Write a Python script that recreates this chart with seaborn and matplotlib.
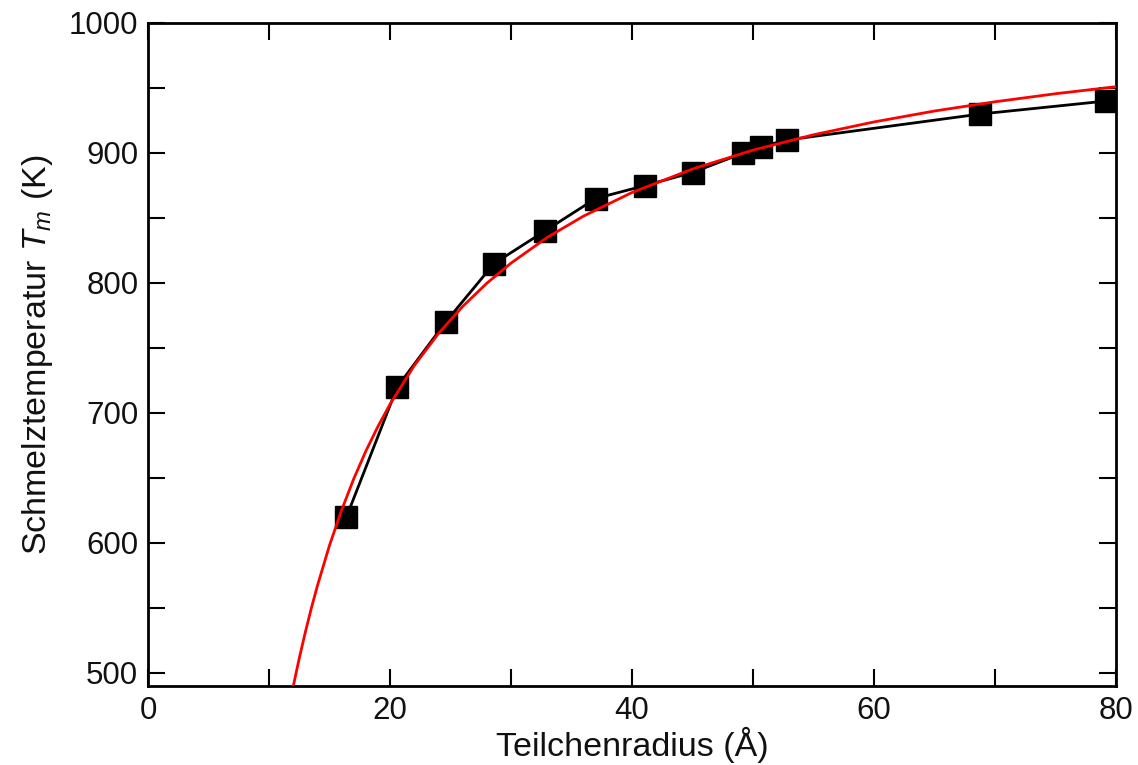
import matplotlib
matplotlib.use("Agg")
import matplotlib.pyplot as plt
import seaborn as sns
import pandas as pd
from matplotlib.ticker import MultipleLocator

# Measured data (particle radius in Å, melting temperature in K)
radius = [16.4, 20.6, 24.6, 28.6, 32.8, 37.0, 41.1, 45.0, 49.2, 50.7, 52.8, 68.8, 79.2]
t_melt = [620, 720, 770, 815, 840, 865, 875, 885, 900, 905, 910, 930, 940]

# Fit curve (red)
fit_r = [12.0, 12.5, 13.0, 13.5, 14.0, 15.0, 16.0, 17.0, 18.0, 19.0, 20.0, 22.0, 24.0,
         26.0, 28.0, 30.0, 33.0, 36.0, 40.0, 45.0, 50.0, 55.0, 60.0, 65.0, 70.0, 75.0, 80.0]
fit_t = [489.6, 511.3, 531.3, 549.9, 567.1, 598.2, 625.3, 649.3, 670.6, 689.6, 706.7, 736.4, 761.1,
         781.9, 799.8, 815.3, 835.1, 851.5, 869.6, 887.7, 902.2, 914.0, 923.9, 932.3, 939.4, 945.6, 951.0]

x_ticks = [0, 20, 40, 60, 80]
y_ticks = [500, 600, 700, 800, 900, 1000]

sns.set_theme(style="white")
plt.rcParams['font.family'] = ['Liberation Sans', 'DejaVu Sans']
plt.rcParams['mathtext.fontset'] = 'custom'
plt.rcParams['mathtext.rm'] = 'Liberation Sans'
plt.rcParams['mathtext.it'] = 'Liberation Sans:italic'

fig = plt.figure(figsize=(11.38, 7.65), dpi=100)
ax = fig.add_axes([148 / 1138, 1 - 686 / 765, (1116 - 148) / 1138, (686 - 23) / 765])

data = pd.DataFrame({"r": radius, "T": t_melt})
fit = pd.DataFrame({"r": fit_r, "T": fit_t})

sns.lineplot(data=data, x="r", y="T", ax=ax, color="black", linewidth=2.0,
             marker="s", markersize=16, markeredgecolor="black", markeredgewidth=1,
             zorder=3)
sns.lineplot(data=fit, x="r", y="T", ax=ax, color="red", linewidth=2.0, zorder=4)

ax.set_xlim(0, 80)
ax.set_ylim(490, 1000)
ax.set_xticks(x_ticks)
ax.set_yticks(y_ticks)
ax.xaxis.set_minor_locator(MultipleLocator(10))
ax.yaxis.set_minor_locator(MultipleLocator(50))

for s in ax.spines.values():
    s.set_visible(True)
    s.set_color("black")
    s.set_linewidth(2.0)

ax.tick_params(which="both", direction="in", top=True, right=True, bottom=True, left=True,
               length=12, width=1.5, color="black")
ax.tick_params(which="major", labelsize=22.5, pad=7, labelcolor="#111111")

ax.set_xlabel("Teilchenradius (Å)", fontsize=24.5, color="#111111")
ax.set_ylabel("Schmelztemperatur $T_m$ (K)", fontsize=24.5, color="#111111")
ax.xaxis.set_label_coords(0.5, -0.062)
ax.yaxis.set_label_coords(-0.096, 0.5)

ax.grid(False)
fig.savefig("out.png", dpi=100, facecolor="white")
